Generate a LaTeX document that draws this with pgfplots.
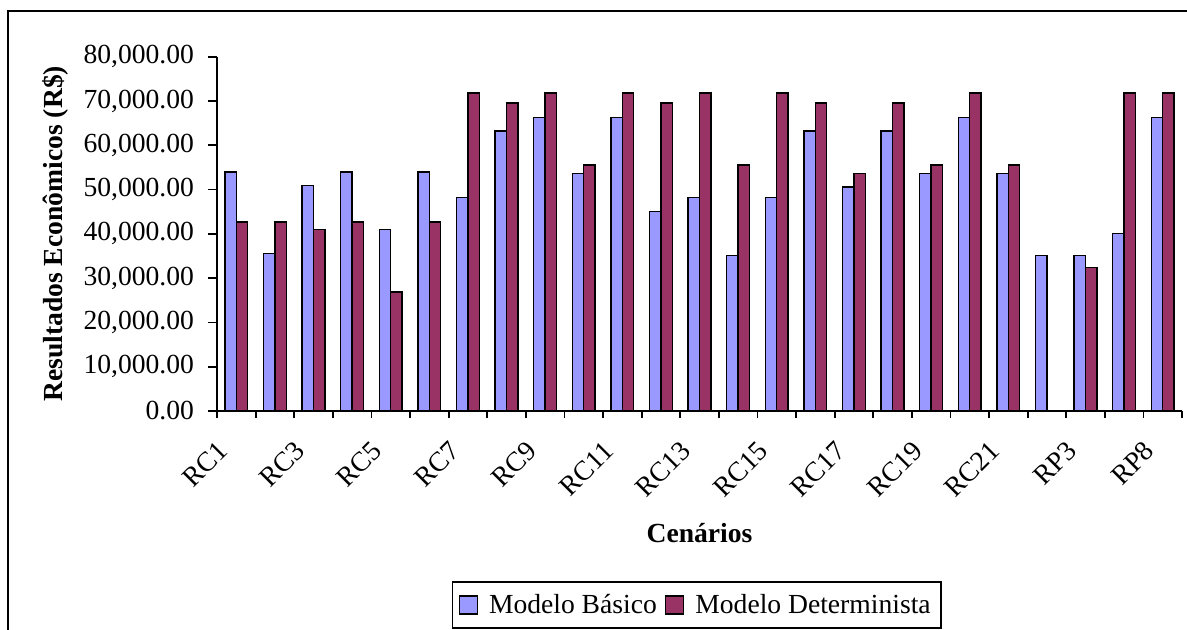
\documentclass[border=0pt]{standalone}
\usepackage{fontspec}
\setmainfont{Liberation Serif}
\usepackage{pgfplots}
\pgfplotsset{compat=1.18}
\usepackage{pgfplotstable}

\definecolor{basico}{HTML}{9999FF}
\definecolor{determ}{HTML}{993366}
\newcommand{\fs}{\fontsize{13.8pt}{16pt}\selectfont}
\pgfplotsset{barleg/.style={legend image code/.code={\draw[##1] (0pt,-4.5pt) rectangle (9pt,4.5pt);}}}

% x: indice do cenario (0 = RC1 ... 24 = RP8)
\pgfplotstableread{
x  basico  determinista
0  54000   42700
1  35600   42700
2  50900   41000
3  54000   42700
4  41000   26900
5  54000   42700
6  48200   71800
7  63200   69500
8  66300   71800
9  53600   55500
10 66300   71800
11 45100   69500
12 48200   71800
13 35100   55500
14 48200   71800
15 63200   69500
16 50600   53600
17 63200   69500
18 53600   55500
19 66300   71800
20 53600   55500
21 35100   nan
22 35100   32400
23 40100   71800
24 66300   71800
}\dados

\begin{document}
\begin{tikzpicture}
\useasboundingbox (-108.5pt,-109pt) rectangle (485pt,205.5pt);
\draw[line width=1pt] (-104.3pt,-140pt) rectangle (520pt,199.8pt);
\begin{axis}[
  at={(0,0)}, anchor=south west,
  scale only axis, width=482.5pt, height=177.15pt,
  ybar=0pt, bar width=5.7pt,
  xmin=-0.5, xmax=24.5,
  ymin=0, ymax=80000,
  axis x line*=bottom, axis y line*=left,
  axis line style={-, line width=0.9pt},
  tick align=outside,
  major tick length=4.5pt, minor tick length=3.5pt,
  every tick/.style={black, line width=0.9pt},
  major x tick style={draw=none},
  xtick={0,2,...,24},
  xticklabels={RC1,RC3,RC5,RC7,RC9,RC11,RC13,RC15,RC17,RC19,RC21,RP3,RP8},
  minor xtick={-0.5,0.5,...,24.5},
  xticklabel style={font=\fs, xshift=-10pt, yshift=-5pt, rotate=45, anchor=north east},
  ytick={0,10000,...,80000},
  scaled y ticks=false,
  yticklabel={\pgfmathprintnumber[fixed,fixed zerofill,precision=2,1000 sep={,},assume math mode=true]{\tick}},
  yticklabel style={font=\fs, xshift=-3.5pt},
  xlabel={\textbf{Cenários}},
  ylabel={\textbf{Resultados Econômicos (R\$)}},
  every axis x label/.style={at={(axis description cs:0.5,-0.345)}, anchor=center, font=\fs},
  every axis y label/.style={at={(axis description cs:-0.1679,0.5)}, anchor=center, rotate=90, font=\fs},
  legend style={at={(axis description cs:0.497,-0.48)}, anchor=north, legend columns=2,
    draw=black, line width=0.8pt, font=\fs, inner xsep=3pt, inner ysep=4pt,
    /tikz/every odd column/.append style={column sep=3.5pt},
    /tikz/every even column/.append style={column sep=2pt}},
  legend cell align=left,
]
\addplot[fill=basico, draw=black, line width=0.75pt, barleg]
  table[x=x, y=basico] {\dados};
\addplot[fill=determ, draw=black, line width=0.75pt, barleg]
  table[x=x, y=determinista] {\dados};
\legend{Modelo Básico, Modelo Determinista}
\end{axis}
\end{tikzpicture}
\end{document}
